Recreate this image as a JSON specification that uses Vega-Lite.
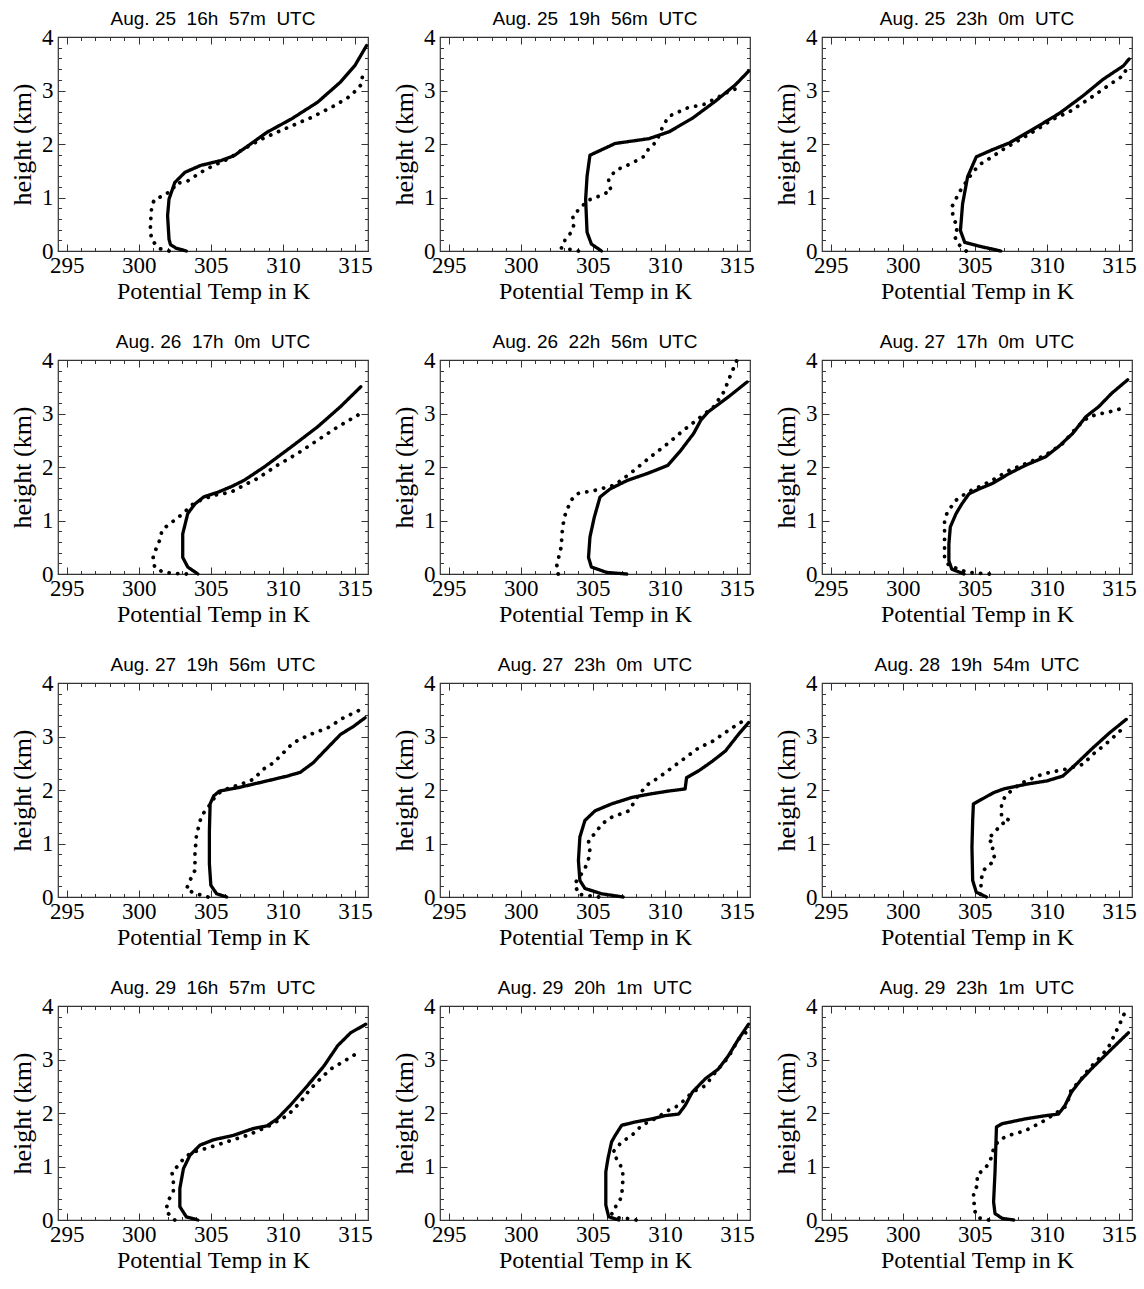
{
 "$schema": "https://vega.github.io/schema/vega-lite/v6.json",
 "padding": {"left": 8, "top": 9, "right": 0, "bottom": 5},
 "background": "white",
 "config": {"view": {"stroke": "#333", "strokeWidth": 1.2}, "axis": {"labelFont": "Liberation Serif", "titleFont": "Liberation Serif", "labelColor": "black", "titleColor": "black", "titleFontWeight": "normal", "grid": false}},
 "datasets": {"d": [
{"t":"Aug. 25 16h 57m UTC","s":"solid","i":0,"T":303.3,"h":0},{"t":"Aug. 25 16h 57m UTC","s":"solid","i":1,"T":302.6,"h":0.05},{"t":"Aug. 25 16h 57m UTC","s":"solid","i":2,"T":302.2,"h":0.12},{"t":"Aug. 25 16h 57m UTC","s":"solid","i":3,"T":302.1,"h":0.22},{"t":"Aug. 25 16h 57m UTC","s":"solid","i":4,"T":302.0,"h":0.66},{"t":"Aug. 25 16h 57m UTC","s":"solid","i":5,"T":302.1,"h":0.97},{"t":"Aug. 25 16h 57m UTC","s":"solid","i":6,"T":302.5,"h":1.28},{"t":"Aug. 25 16h 57m UTC","s":"solid","i":7,"T":303.2,"h":1.47},{"t":"Aug. 25 16h 57m UTC","s":"solid","i":8,"T":304.3,"h":1.6},{"t":"Aug. 25 16h 57m UTC","s":"solid","i":9,"T":305.7,"h":1.69},{"t":"Aug. 25 16h 57m UTC","s":"solid","i":10,"T":306.6,"h":1.78},{"t":"Aug. 25 16h 57m UTC","s":"solid","i":11,"T":307.6,"h":1.97},{"t":"Aug. 25 16h 57m UTC","s":"solid","i":12,"T":308.9,"h":2.22},{"t":"Aug. 25 16h 57m UTC","s":"solid","i":13,"T":310.6,"h":2.47},{"t":"Aug. 25 16h 57m UTC","s":"solid","i":14,"T":312.4,"h":2.78},{"t":"Aug. 25 16h 57m UTC","s":"solid","i":15,"T":314.0,"h":3.16},{"t":"Aug. 25 16h 57m UTC","s":"solid","i":16,"T":315.0,"h":3.47},{"t":"Aug. 25 16h 57m UTC","s":"solid","i":17,"T":315.8,"h":3.84},
{"t":"Aug. 25 16h 57m UTC","s":"dotted","i":0,"T":302.1,"h":0},{"t":"Aug. 25 16h 57m UTC","s":"dotted","i":1,"T":301.5,"h":0.04},{"t":"Aug. 25 16h 57m UTC","s":"dotted","i":2,"T":300.9,"h":0.2},{"t":"Aug. 25 16h 57m UTC","s":"dotted","i":3,"T":300.8,"h":0.4},{"t":"Aug. 25 16h 57m UTC","s":"dotted","i":4,"T":300.85,"h":0.66},{"t":"Aug. 25 16h 57m UTC","s":"dotted","i":5,"T":300.9,"h":0.84},{"t":"Aug. 25 16h 57m UTC","s":"dotted","i":6,"T":301.1,"h":0.97},{"t":"Aug. 25 16h 57m UTC","s":"dotted","i":7,"T":301.7,"h":1.03},{"t":"Aug. 25 16h 57m UTC","s":"dotted","i":8,"T":302.4,"h":1.16},{"t":"Aug. 25 16h 57m UTC","s":"dotted","i":9,"T":302.5,"h":1.25},{"t":"Aug. 25 16h 57m UTC","s":"dotted","i":10,"T":303.4,"h":1.31},{"t":"Aug. 25 16h 57m UTC","s":"dotted","i":11,"T":304.3,"h":1.47},{"t":"Aug. 25 16h 57m UTC","s":"dotted","i":12,"T":305.2,"h":1.6},{"t":"Aug. 25 16h 57m UTC","s":"dotted","i":13,"T":306.2,"h":1.72},{"t":"Aug. 25 16h 57m UTC","s":"dotted","i":14,"T":307.1,"h":1.88},{"t":"Aug. 25 16h 57m UTC","s":"dotted","i":15,"T":308.5,"h":2.09},{"t":"Aug. 25 16h 57m UTC","s":"dotted","i":16,"T":310.1,"h":2.28},{"t":"Aug. 25 16h 57m UTC","s":"dotted","i":17,"T":312.0,"h":2.5},{"t":"Aug. 25 16h 57m UTC","s":"dotted","i":18,"T":313.6,"h":2.72},{"t":"Aug. 25 16h 57m UTC","s":"dotted","i":19,"T":314.7,"h":2.9},{"t":"Aug. 25 16h 57m UTC","s":"dotted","i":20,"T":315.4,"h":3.1},{"t":"Aug. 25 16h 57m UTC","s":"dotted","i":21,"T":315.6,"h":3.38},
{"t":"Aug. 25 19h 56m UTC","s":"solid","i":0,"T":305.6,"h":0},{"t":"Aug. 25 19h 56m UTC","s":"solid","i":1,"T":304.9,"h":0.13},{"t":"Aug. 25 19h 56m UTC","s":"solid","i":2,"T":304.6,"h":0.35},{"t":"Aug. 25 19h 56m UTC","s":"solid","i":3,"T":304.5,"h":0.97},{"t":"Aug. 25 19h 56m UTC","s":"solid","i":4,"T":304.6,"h":1.4},{"t":"Aug. 25 19h 56m UTC","s":"solid","i":5,"T":304.8,"h":1.79},{"t":"Aug. 25 19h 56m UTC","s":"solid","i":6,"T":306.55,"h":2.01},{"t":"Aug. 25 19h 56m UTC","s":"solid","i":7,"T":308.9,"h":2.1},{"t":"Aug. 25 19h 56m UTC","s":"solid","i":8,"T":310.3,"h":2.23},{"t":"Aug. 25 19h 56m UTC","s":"solid","i":9,"T":311.9,"h":2.48},{"t":"Aug. 25 19h 56m UTC","s":"solid","i":10,"T":313.5,"h":2.8},{"t":"Aug. 25 19h 56m UTC","s":"solid","i":11,"T":314.9,"h":3.11},{"t":"Aug. 25 19h 56m UTC","s":"solid","i":12,"T":315.8,"h":3.36},
{"t":"Aug. 25 19h 56m UTC","s":"dotted","i":0,"T":304.0,"h":0},{"t":"Aug. 25 19h 56m UTC","s":"dotted","i":1,"T":302.8,"h":0.06},{"t":"Aug. 25 19h 56m UTC","s":"dotted","i":2,"T":303.1,"h":0.22},{"t":"Aug. 25 19h 56m UTC","s":"dotted","i":3,"T":303.5,"h":0.35},{"t":"Aug. 25 19h 56m UTC","s":"dotted","i":4,"T":303.7,"h":0.5},{"t":"Aug. 25 19h 56m UTC","s":"dotted","i":5,"T":303.6,"h":0.66},{"t":"Aug. 25 19h 56m UTC","s":"dotted","i":6,"T":304.1,"h":0.79},{"t":"Aug. 25 19h 56m UTC","s":"dotted","i":7,"T":304.6,"h":0.94},{"t":"Aug. 25 19h 56m UTC","s":"dotted","i":8,"T":305.2,"h":1.0},{"t":"Aug. 25 19h 56m UTC","s":"dotted","i":9,"T":306.3,"h":1.13},{"t":"Aug. 25 19h 56m UTC","s":"dotted","i":10,"T":306.1,"h":1.23},{"t":"Aug. 25 19h 56m UTC","s":"dotted","i":11,"T":306.1,"h":1.35},{"t":"Aug. 25 19h 56m UTC","s":"dotted","i":12,"T":306.6,"h":1.51},{"t":"Aug. 25 19h 56m UTC","s":"dotted","i":13,"T":307.7,"h":1.64},{"t":"Aug. 25 19h 56m UTC","s":"dotted","i":14,"T":308.5,"h":1.76},{"t":"Aug. 25 19h 56m UTC","s":"dotted","i":15,"T":308.9,"h":1.92},{"t":"Aug. 25 19h 56m UTC","s":"dotted","i":16,"T":309.4,"h":2.04},{"t":"Aug. 25 19h 56m UTC","s":"dotted","i":17,"T":309.9,"h":2.36},{"t":"Aug. 25 19h 56m UTC","s":"dotted","i":18,"T":310.3,"h":2.52},{"t":"Aug. 25 19h 56m UTC","s":"dotted","i":19,"T":311.5,"h":2.67},{"t":"Aug. 25 19h 56m UTC","s":"dotted","i":20,"T":312.7,"h":2.74},{"t":"Aug. 25 19h 56m UTC","s":"dotted","i":21,"T":313.8,"h":2.89},{"t":"Aug. 25 19h 56m UTC","s":"dotted","i":22,"T":314.5,"h":2.99},{"t":"Aug. 25 19h 56m UTC","s":"dotted","i":23,"T":315.4,"h":3.08},
{"t":"Aug. 25 23h 0m UTC","s":"solid","i":0,"T":306.8,"h":0},{"t":"Aug. 25 23h 0m UTC","s":"solid","i":1,"T":305.3,"h":0.09},{"t":"Aug. 25 23h 0m UTC","s":"solid","i":2,"T":304.3,"h":0.16},{"t":"Aug. 25 23h 0m UTC","s":"solid","i":3,"T":304.0,"h":0.38},{"t":"Aug. 25 23h 0m UTC","s":"solid","i":4,"T":304.15,"h":0.88},{"t":"Aug. 25 23h 0m UTC","s":"solid","i":5,"T":304.5,"h":1.39},{"t":"Aug. 25 23h 0m UTC","s":"solid","i":6,"T":305.1,"h":1.76},{"t":"Aug. 25 23h 0m UTC","s":"solid","i":7,"T":306.2,"h":1.89},{"t":"Aug. 25 23h 0m UTC","s":"solid","i":8,"T":307.4,"h":2.02},{"t":"Aug. 25 23h 0m UTC","s":"solid","i":9,"T":309.0,"h":2.27},{"t":"Aug. 25 23h 0m UTC","s":"solid","i":10,"T":310.9,"h":2.58},{"t":"Aug. 25 23h 0m UTC","s":"solid","i":11,"T":312.5,"h":2.9},{"t":"Aug. 25 23h 0m UTC","s":"solid","i":12,"T":313.9,"h":3.21},{"t":"Aug. 25 23h 0m UTC","s":"solid","i":13,"T":315.3,"h":3.46},{"t":"Aug. 25 23h 0m UTC","s":"solid","i":14,"T":315.7,"h":3.59},
{"t":"Aug. 25 23h 0m UTC","s":"dotted","i":0,"T":304.4,"h":0},{"t":"Aug. 25 23h 0m UTC","s":"dotted","i":1,"T":303.8,"h":0.14},{"t":"Aug. 25 23h 0m UTC","s":"dotted","i":2,"T":303.6,"h":0.28},{"t":"Aug. 25 23h 0m UTC","s":"dotted","i":3,"T":303.8,"h":0.44},{"t":"Aug. 25 23h 0m UTC","s":"dotted","i":4,"T":303.5,"h":0.63},{"t":"Aug. 25 23h 0m UTC","s":"dotted","i":5,"T":303.4,"h":0.82},{"t":"Aug. 25 23h 0m UTC","s":"dotted","i":6,"T":303.7,"h":0.98},{"t":"Aug. 25 23h 0m UTC","s":"dotted","i":7,"T":304.0,"h":1.13},{"t":"Aug. 25 23h 0m UTC","s":"dotted","i":8,"T":304.4,"h":1.29},{"t":"Aug. 25 23h 0m UTC","s":"dotted","i":9,"T":304.8,"h":1.45},{"t":"Aug. 25 23h 0m UTC","s":"dotted","i":10,"T":305.3,"h":1.61},{"t":"Aug. 25 23h 0m UTC","s":"dotted","i":11,"T":306.2,"h":1.76},{"t":"Aug. 25 23h 0m UTC","s":"dotted","i":12,"T":306.9,"h":1.89},{"t":"Aug. 25 23h 0m UTC","s":"dotted","i":13,"T":308.3,"h":2.11},{"t":"Aug. 25 23h 0m UTC","s":"dotted","i":14,"T":309.3,"h":2.27},{"t":"Aug. 25 23h 0m UTC","s":"dotted","i":15,"T":310.4,"h":2.46},{"t":"Aug. 25 23h 0m UTC","s":"dotted","i":16,"T":311.6,"h":2.61},{"t":"Aug. 25 23h 0m UTC","s":"dotted","i":17,"T":312.5,"h":2.77},{"t":"Aug. 25 23h 0m UTC","s":"dotted","i":18,"T":313.4,"h":2.93},{"t":"Aug. 25 23h 0m UTC","s":"dotted","i":19,"T":314.4,"h":3.12},{"t":"Aug. 25 23h 0m UTC","s":"dotted","i":20,"T":315.3,"h":3.28},{"t":"Aug. 25 23h 0m UTC","s":"dotted","i":21,"T":315.5,"h":3.4},
{"t":"Aug. 26 17h 0m UTC","s":"solid","i":0,"T":304.1,"h":0},{"t":"Aug. 26 17h 0m UTC","s":"solid","i":1,"T":303.4,"h":0.13},{"t":"Aug. 26 17h 0m UTC","s":"solid","i":2,"T":303.05,"h":0.31},{"t":"Aug. 26 17h 0m UTC","s":"solid","i":3,"T":303.05,"h":0.75},{"t":"Aug. 26 17h 0m UTC","s":"solid","i":4,"T":303.4,"h":1.13},{"t":"Aug. 26 17h 0m UTC","s":"solid","i":5,"T":303.9,"h":1.31},{"t":"Aug. 26 17h 0m UTC","s":"solid","i":6,"T":304.5,"h":1.44},{"t":"Aug. 26 17h 0m UTC","s":"solid","i":7,"T":305.5,"h":1.53},{"t":"Aug. 26 17h 0m UTC","s":"solid","i":8,"T":306.4,"h":1.63},{"t":"Aug. 26 17h 0m UTC","s":"solid","i":9,"T":307.3,"h":1.75},{"t":"Aug. 26 17h 0m UTC","s":"solid","i":10,"T":308.7,"h":2.0},{"t":"Aug. 26 17h 0m UTC","s":"solid","i":11,"T":310.6,"h":2.38},{"t":"Aug. 26 17h 0m UTC","s":"solid","i":12,"T":312.4,"h":2.75},{"t":"Aug. 26 17h 0m UTC","s":"solid","i":13,"T":314.0,"h":3.13},{"t":"Aug. 26 17h 0m UTC","s":"solid","i":14,"T":315.4,"h":3.5},
{"t":"Aug. 26 17h 0m UTC","s":"dotted","i":0,"T":303.3,"h":0},{"t":"Aug. 26 17h 0m UTC","s":"dotted","i":1,"T":302.5,"h":0.01},{"t":"Aug. 26 17h 0m UTC","s":"dotted","i":2,"T":301.7,"h":0.03},{"t":"Aug. 26 17h 0m UTC","s":"dotted","i":3,"T":301.1,"h":0.13},{"t":"Aug. 26 17h 0m UTC","s":"dotted","i":4,"T":301.0,"h":0.31},{"t":"Aug. 26 17h 0m UTC","s":"dotted","i":5,"T":301.2,"h":0.47},{"t":"Aug. 26 17h 0m UTC","s":"dotted","i":6,"T":301.5,"h":0.66},{"t":"Aug. 26 17h 0m UTC","s":"dotted","i":7,"T":301.6,"h":0.81},{"t":"Aug. 26 17h 0m UTC","s":"dotted","i":8,"T":302.0,"h":0.91},{"t":"Aug. 26 17h 0m UTC","s":"dotted","i":9,"T":302.6,"h":1.03},{"t":"Aug. 26 17h 0m UTC","s":"dotted","i":10,"T":303.2,"h":1.16},{"t":"Aug. 26 17h 0m UTC","s":"dotted","i":11,"T":303.6,"h":1.28},{"t":"Aug. 26 17h 0m UTC","s":"dotted","i":12,"T":304.3,"h":1.38},{"t":"Aug. 26 17h 0m UTC","s":"dotted","i":13,"T":305.2,"h":1.47},{"t":"Aug. 26 17h 0m UTC","s":"dotted","i":14,"T":306.4,"h":1.53},{"t":"Aug. 26 17h 0m UTC","s":"dotted","i":15,"T":307.3,"h":1.66},{"t":"Aug. 26 17h 0m UTC","s":"dotted","i":16,"T":308.2,"h":1.78},{"t":"Aug. 26 17h 0m UTC","s":"dotted","i":17,"T":309.6,"h":2.03},{"t":"Aug. 26 17h 0m UTC","s":"dotted","i":18,"T":311.0,"h":2.25},{"t":"Aug. 26 17h 0m UTC","s":"dotted","i":19,"T":312.4,"h":2.5},{"t":"Aug. 26 17h 0m UTC","s":"dotted","i":20,"T":313.8,"h":2.75},{"t":"Aug. 26 17h 0m UTC","s":"dotted","i":21,"T":315.2,"h":2.97},{"t":"Aug. 26 17h 0m UTC","s":"dotted","i":22,"T":315.5,"h":3.06},
{"t":"Aug. 26 22h 56m UTC","s":"solid","i":0,"T":307.35,"h":0},{"t":"Aug. 26 22h 56m UTC","s":"solid","i":1,"T":305.95,"h":0.03},{"t":"Aug. 26 22h 56m UTC","s":"solid","i":2,"T":304.9,"h":0.13},{"t":"Aug. 26 22h 56m UTC","s":"solid","i":3,"T":304.7,"h":0.31},{"t":"Aug. 26 22h 56m UTC","s":"solid","i":4,"T":304.8,"h":0.69},{"t":"Aug. 26 22h 56m UTC","s":"solid","i":5,"T":305.1,"h":1.06},{"t":"Aug. 26 22h 56m UTC","s":"solid","i":6,"T":305.5,"h":1.44},{"t":"Aug. 26 22h 56m UTC","s":"solid","i":7,"T":306.2,"h":1.59},{"t":"Aug. 26 22h 56m UTC","s":"solid","i":8,"T":307.4,"h":1.75},{"t":"Aug. 26 22h 56m UTC","s":"solid","i":9,"T":308.8,"h":1.88},{"t":"Aug. 26 22h 56m UTC","s":"solid","i":10,"T":310.2,"h":2.03},{"t":"Aug. 26 22h 56m UTC","s":"solid","i":11,"T":311.1,"h":2.31},{"t":"Aug. 26 22h 56m UTC","s":"solid","i":12,"T":312.0,"h":2.63},{"t":"Aug. 26 22h 56m UTC","s":"solid","i":13,"T":312.5,"h":2.88},{"t":"Aug. 26 22h 56m UTC","s":"solid","i":14,"T":313.0,"h":3.03},{"t":"Aug. 26 22h 56m UTC","s":"solid","i":15,"T":314.4,"h":3.31},{"t":"Aug. 26 22h 56m UTC","s":"solid","i":16,"T":315.7,"h":3.59},
{"t":"Aug. 26 22h 56m UTC","s":"dotted","i":0,"T":302.6,"h":0},{"t":"Aug. 26 22h 56m UTC","s":"dotted","i":1,"T":302.5,"h":0.16},{"t":"Aug. 26 22h 56m UTC","s":"dotted","i":2,"T":302.8,"h":0.5},{"t":"Aug. 26 22h 56m UTC","s":"dotted","i":3,"T":302.9,"h":0.88},{"t":"Aug. 26 22h 56m UTC","s":"dotted","i":4,"T":303.1,"h":1.13},{"t":"Aug. 26 22h 56m UTC","s":"dotted","i":5,"T":303.5,"h":1.38},{"t":"Aug. 26 22h 56m UTC","s":"dotted","i":6,"T":303.9,"h":1.5},{"t":"Aug. 26 22h 56m UTC","s":"dotted","i":7,"T":305.1,"h":1.56},{"t":"Aug. 26 22h 56m UTC","s":"dotted","i":8,"T":306.5,"h":1.66},{"t":"Aug. 26 22h 56m UTC","s":"dotted","i":9,"T":307.6,"h":1.88},{"t":"Aug. 26 22h 56m UTC","s":"dotted","i":10,"T":309.0,"h":2.19},{"t":"Aug. 26 22h 56m UTC","s":"dotted","i":11,"T":310.2,"h":2.44},{"t":"Aug. 26 22h 56m UTC","s":"dotted","i":12,"T":311.3,"h":2.69},{"t":"Aug. 26 22h 56m UTC","s":"dotted","i":13,"T":312.5,"h":2.94},{"t":"Aug. 26 22h 56m UTC","s":"dotted","i":14,"T":313.4,"h":3.13},{"t":"Aug. 26 22h 56m UTC","s":"dotted","i":15,"T":314.1,"h":3.41},{"t":"Aug. 26 22h 56m UTC","s":"dotted","i":16,"T":314.6,"h":3.75},{"t":"Aug. 26 22h 56m UTC","s":"dotted","i":17,"T":315.0,"h":4.0},
{"t":"Aug. 27 17h 0m UTC","s":"solid","i":0,"T":304.25,"h":0},{"t":"Aug. 27 17h 0m UTC","s":"solid","i":1,"T":303.4,"h":0.09},{"t":"Aug. 27 17h 0m UTC","s":"solid","i":2,"T":303.2,"h":0.25},{"t":"Aug. 27 17h 0m UTC","s":"solid","i":3,"T":303.2,"h":0.56},{"t":"Aug. 27 17h 0m UTC","s":"solid","i":4,"T":303.3,"h":0.88},{"t":"Aug. 27 17h 0m UTC","s":"solid","i":5,"T":303.7,"h":1.13},{"t":"Aug. 27 17h 0m UTC","s":"solid","i":6,"T":304.1,"h":1.31},{"t":"Aug. 27 17h 0m UTC","s":"solid","i":7,"T":304.6,"h":1.5},{"t":"Aug. 27 17h 0m UTC","s":"solid","i":8,"T":305.3,"h":1.59},{"t":"Aug. 27 17h 0m UTC","s":"solid","i":9,"T":306.2,"h":1.69},{"t":"Aug. 27 17h 0m UTC","s":"solid","i":10,"T":307.4,"h":1.88},{"t":"Aug. 27 17h 0m UTC","s":"solid","i":11,"T":308.5,"h":2.03},{"t":"Aug. 27 17h 0m UTC","s":"solid","i":12,"T":309.9,"h":2.19},{"t":"Aug. 27 17h 0m UTC","s":"solid","i":13,"T":310.8,"h":2.38},{"t":"Aug. 27 17h 0m UTC","s":"solid","i":14,"T":311.8,"h":2.63},{"t":"Aug. 27 17h 0m UTC","s":"solid","i":15,"T":312.7,"h":2.94},{"t":"Aug. 27 17h 0m UTC","s":"solid","i":16,"T":313.6,"h":3.13},{"t":"Aug. 27 17h 0m UTC","s":"solid","i":17,"T":314.5,"h":3.38},{"t":"Aug. 27 17h 0m UTC","s":"solid","i":18,"T":315.6,"h":3.63},
{"t":"Aug. 27 17h 0m UTC","s":"dotted","i":0,"T":306.0,"h":0},{"t":"Aug. 27 17h 0m UTC","s":"dotted","i":1,"T":304.5,"h":0.03},{"t":"Aug. 27 17h 0m UTC","s":"dotted","i":2,"T":303.2,"h":0.16},{"t":"Aug. 27 17h 0m UTC","s":"dotted","i":3,"T":302.9,"h":0.31},{"t":"Aug. 27 17h 0m UTC","s":"dotted","i":4,"T":302.9,"h":0.63},{"t":"Aug. 27 17h 0m UTC","s":"dotted","i":5,"T":302.9,"h":1.0},{"t":"Aug. 27 17h 0m UTC","s":"dotted","i":6,"T":303.1,"h":1.16},{"t":"Aug. 27 17h 0m UTC","s":"dotted","i":7,"T":303.7,"h":1.38},{"t":"Aug. 27 17h 0m UTC","s":"dotted","i":8,"T":304.5,"h":1.53},{"t":"Aug. 27 17h 0m UTC","s":"dotted","i":9,"T":305.3,"h":1.63},{"t":"Aug. 27 17h 0m UTC","s":"dotted","i":10,"T":306.2,"h":1.75},{"t":"Aug. 27 17h 0m UTC","s":"dotted","i":11,"T":307.4,"h":1.94},{"t":"Aug. 27 17h 0m UTC","s":"dotted","i":12,"T":308.5,"h":2.06},{"t":"Aug. 27 17h 0m UTC","s":"dotted","i":13,"T":309.9,"h":2.22},{"t":"Aug. 27 17h 0m UTC","s":"dotted","i":14,"T":311.1,"h":2.44},{"t":"Aug. 27 17h 0m UTC","s":"dotted","i":15,"T":312.1,"h":2.75},{"t":"Aug. 27 17h 0m UTC","s":"dotted","i":16,"T":312.9,"h":2.94},{"t":"Aug. 27 17h 0m UTC","s":"dotted","i":17,"T":313.8,"h":3.0},{"t":"Aug. 27 17h 0m UTC","s":"dotted","i":18,"T":314.8,"h":3.06},{"t":"Aug. 27 17h 0m UTC","s":"dotted","i":19,"T":315.5,"h":3.13},
{"t":"Aug. 27 19h 56m UTC","s":"solid","i":0,"T":306.1,"h":0},{"t":"Aug. 27 19h 56m UTC","s":"solid","i":1,"T":305.4,"h":0.06},{"t":"Aug. 27 19h 56m UTC","s":"solid","i":2,"T":305.0,"h":0.22},{"t":"Aug. 27 19h 56m UTC","s":"solid","i":3,"T":304.9,"h":0.62},{"t":"Aug. 27 19h 56m UTC","s":"solid","i":4,"T":304.9,"h":1.24},{"t":"Aug. 27 19h 56m UTC","s":"solid","i":5,"T":304.95,"h":1.74},{"t":"Aug. 27 19h 56m UTC","s":"solid","i":6,"T":305.2,"h":1.89},{"t":"Aug. 27 19h 56m UTC","s":"solid","i":7,"T":305.6,"h":1.98},{"t":"Aug. 27 19h 56m UTC","s":"solid","i":8,"T":307.0,"h":2.05},{"t":"Aug. 27 19h 56m UTC","s":"solid","i":9,"T":308.9,"h":2.17},{"t":"Aug. 27 19h 56m UTC","s":"solid","i":10,"T":310.3,"h":2.26},{"t":"Aug. 27 19h 56m UTC","s":"solid","i":11,"T":311.2,"h":2.33},{"t":"Aug. 27 19h 56m UTC","s":"solid","i":12,"T":312.1,"h":2.51},{"t":"Aug. 27 19h 56m UTC","s":"solid","i":13,"T":313.1,"h":2.79},{"t":"Aug. 27 19h 56m UTC","s":"solid","i":14,"T":314.0,"h":3.04},{"t":"Aug. 27 19h 56m UTC","s":"solid","i":15,"T":314.9,"h":3.19},{"t":"Aug. 27 19h 56m UTC","s":"solid","i":16,"T":315.7,"h":3.35},
{"t":"Aug. 27 19h 56m UTC","s":"dotted","i":0,"T":304.8,"h":0},{"t":"Aug. 27 19h 56m UTC","s":"dotted","i":1,"T":304.0,"h":0.06},{"t":"Aug. 27 19h 56m UTC","s":"dotted","i":2,"T":303.3,"h":0.14},{"t":"Aug. 27 19h 56m UTC","s":"dotted","i":3,"T":303.5,"h":0.28},{"t":"Aug. 27 19h 56m UTC","s":"dotted","i":4,"T":303.9,"h":0.5},{"t":"Aug. 27 19h 56m UTC","s":"dotted","i":5,"T":303.9,"h":0.81},{"t":"Aug. 27 19h 56m UTC","s":"dotted","i":6,"T":304.0,"h":1.15},{"t":"Aug. 27 19h 56m UTC","s":"dotted","i":7,"T":304.35,"h":1.52},{"t":"Aug. 27 19h 56m UTC","s":"dotted","i":8,"T":304.8,"h":1.67},{"t":"Aug. 27 19h 56m UTC","s":"dotted","i":9,"T":305.4,"h":1.92},{"t":"Aug. 27 19h 56m UTC","s":"dotted","i":10,"T":306.1,"h":2.02},{"t":"Aug. 27 19h 56m UTC","s":"dotted","i":11,"T":307.0,"h":2.1},{"t":"Aug. 27 19h 56m UTC","s":"dotted","i":12,"T":307.95,"h":2.2},{"t":"Aug. 27 19h 56m UTC","s":"dotted","i":13,"T":308.65,"h":2.39},{"t":"Aug. 27 19h 56m UTC","s":"dotted","i":14,"T":309.35,"h":2.51},{"t":"Aug. 27 19h 56m UTC","s":"dotted","i":15,"T":310.05,"h":2.7},{"t":"Aug. 27 19h 56m UTC","s":"dotted","i":16,"T":310.7,"h":2.88},{"t":"Aug. 27 19h 56m UTC","s":"dotted","i":17,"T":311.9,"h":3.04},{"t":"Aug. 27 19h 56m UTC","s":"dotted","i":18,"T":313.1,"h":3.16},{"t":"Aug. 27 19h 56m UTC","s":"dotted","i":19,"T":314.2,"h":3.35},{"t":"Aug. 27 19h 56m UTC","s":"dotted","i":20,"T":315.6,"h":3.53},
{"t":"Aug. 27 23h 0m UTC","s":"solid","i":0,"T":307.1,"h":0},{"t":"Aug. 27 23h 0m UTC","s":"solid","i":1,"T":305.6,"h":0.06},{"t":"Aug. 27 23h 0m UTC","s":"solid","i":2,"T":304.45,"h":0.16},{"t":"Aug. 27 23h 0m UTC","s":"solid","i":3,"T":304.1,"h":0.31},{"t":"Aug. 27 23h 0m UTC","s":"solid","i":4,"T":304.0,"h":0.68},{"t":"Aug. 27 23h 0m UTC","s":"solid","i":5,"T":304.1,"h":1.12},{"t":"Aug. 27 23h 0m UTC","s":"solid","i":6,"T":304.45,"h":1.43},{"t":"Aug. 27 23h 0m UTC","s":"solid","i":7,"T":305.15,"h":1.61},{"t":"Aug. 27 23h 0m UTC","s":"solid","i":8,"T":306.3,"h":1.74},{"t":"Aug. 27 23h 0m UTC","s":"solid","i":9,"T":307.7,"h":1.86},{"t":"Aug. 27 23h 0m UTC","s":"solid","i":10,"T":308.85,"h":1.92},{"t":"Aug. 27 23h 0m UTC","s":"solid","i":11,"T":310.25,"h":1.98},{"t":"Aug. 27 23h 0m UTC","s":"solid","i":12,"T":311.4,"h":2.02},{"t":"Aug. 27 23h 0m UTC","s":"solid","i":13,"T":311.5,"h":2.23},{"t":"Aug. 27 23h 0m UTC","s":"solid","i":14,"T":312.35,"h":2.36},{"t":"Aug. 27 23h 0m UTC","s":"solid","i":15,"T":313.3,"h":2.54},{"t":"Aug. 27 23h 0m UTC","s":"solid","i":16,"T":314.2,"h":2.73},{"t":"Aug. 27 23h 0m UTC","s":"solid","i":17,"T":315.1,"h":3.04},{"t":"Aug. 27 23h 0m UTC","s":"solid","i":18,"T":315.8,"h":3.26},
{"t":"Aug. 27 23h 0m UTC","s":"dotted","i":0,"T":305.4,"h":0},{"t":"Aug. 27 23h 0m UTC","s":"dotted","i":1,"T":304.0,"h":0.05},{"t":"Aug. 27 23h 0m UTC","s":"dotted","i":2,"T":303.75,"h":0.25},{"t":"Aug. 27 23h 0m UTC","s":"dotted","i":3,"T":304.45,"h":0.53},{"t":"Aug. 27 23h 0m UTC","s":"dotted","i":4,"T":304.7,"h":0.71},{"t":"Aug. 27 23h 0m UTC","s":"dotted","i":5,"T":304.8,"h":0.9},{"t":"Aug. 27 23h 0m UTC","s":"dotted","i":6,"T":304.7,"h":1.05},{"t":"Aug. 27 23h 0m UTC","s":"dotted","i":7,"T":305.3,"h":1.24},{"t":"Aug. 27 23h 0m UTC","s":"dotted","i":8,"T":305.6,"h":1.36},{"t":"Aug. 27 23h 0m UTC","s":"dotted","i":9,"T":306.3,"h":1.49},{"t":"Aug. 27 23h 0m UTC","s":"dotted","i":10,"T":307.5,"h":1.61},{"t":"Aug. 27 23h 0m UTC","s":"dotted","i":11,"T":308.2,"h":1.92},{"t":"Aug. 27 23h 0m UTC","s":"dotted","i":12,"T":308.85,"h":2.11},{"t":"Aug. 27 23h 0m UTC","s":"dotted","i":13,"T":309.55,"h":2.23},{"t":"Aug. 27 23h 0m UTC","s":"dotted","i":14,"T":310.5,"h":2.42},{"t":"Aug. 27 23h 0m UTC","s":"dotted","i":15,"T":311.4,"h":2.6},{"t":"Aug. 27 23h 0m UTC","s":"dotted","i":16,"T":312.35,"h":2.79},{"t":"Aug. 27 23h 0m UTC","s":"dotted","i":17,"T":313.3,"h":2.91},{"t":"Aug. 27 23h 0m UTC","s":"dotted","i":18,"T":314.65,"h":3.16},{"t":"Aug. 27 23h 0m UTC","s":"dotted","i":19,"T":315.6,"h":3.32},
{"t":"Aug. 28 19h 54m UTC","s":"solid","i":0,"T":305.8,"h":0},{"t":"Aug. 28 19h 54m UTC","s":"solid","i":1,"T":305.1,"h":0.09},{"t":"Aug. 28 19h 54m UTC","s":"solid","i":2,"T":304.85,"h":0.31},{"t":"Aug. 28 19h 54m UTC","s":"solid","i":3,"T":304.8,"h":0.93},{"t":"Aug. 28 19h 54m UTC","s":"solid","i":4,"T":304.85,"h":1.43},{"t":"Aug. 28 19h 54m UTC","s":"solid","i":5,"T":304.9,"h":1.74},{"t":"Aug. 28 19h 54m UTC","s":"solid","i":6,"T":305.5,"h":1.83},{"t":"Aug. 28 19h 54m UTC","s":"solid","i":7,"T":306.3,"h":1.95},{"t":"Aug. 28 19h 54m UTC","s":"solid","i":8,"T":307.0,"h":2.02},{"t":"Aug. 28 19h 54m UTC","s":"solid","i":9,"T":308.6,"h":2.11},{"t":"Aug. 28 19h 54m UTC","s":"solid","i":10,"T":310.0,"h":2.17},{"t":"Aug. 28 19h 54m UTC","s":"solid","i":11,"T":311.1,"h":2.26},{"t":"Aug. 28 19h 54m UTC","s":"solid","i":12,"T":312.0,"h":2.48},{"t":"Aug. 28 19h 54m UTC","s":"solid","i":13,"T":313.2,"h":2.79},{"t":"Aug. 28 19h 54m UTC","s":"solid","i":14,"T":314.35,"h":3.07},{"t":"Aug. 28 19h 54m UTC","s":"solid","i":15,"T":315.5,"h":3.32},
{"t":"Aug. 28 19h 54m UTC","s":"dotted","i":0,"T":305.4,"h":0.05},{"t":"Aug. 28 19h 54m UTC","s":"dotted","i":1,"T":305.45,"h":0.34},{"t":"Aug. 28 19h 54m UTC","s":"dotted","i":2,"T":305.6,"h":0.5},{"t":"Aug. 28 19h 54m UTC","s":"dotted","i":3,"T":306.0,"h":0.59},{"t":"Aug. 28 19h 54m UTC","s":"dotted","i":4,"T":306.4,"h":0.71},{"t":"Aug. 28 19h 54m UTC","s":"dotted","i":5,"T":306.2,"h":0.87},{"t":"Aug. 28 19h 54m UTC","s":"dotted","i":6,"T":306.3,"h":0.99},{"t":"Aug. 28 19h 54m UTC","s":"dotted","i":7,"T":305.9,"h":1.09},{"t":"Aug. 28 19h 54m UTC","s":"dotted","i":8,"T":306.4,"h":1.21},{"t":"Aug. 28 19h 54m UTC","s":"dotted","i":9,"T":306.8,"h":1.36},{"t":"Aug. 28 19h 54m UTC","s":"dotted","i":10,"T":307.4,"h":1.43},{"t":"Aug. 28 19h 54m UTC","s":"dotted","i":11,"T":306.85,"h":1.52},{"t":"Aug. 28 19h 54m UTC","s":"dotted","i":12,"T":306.85,"h":1.71},{"t":"Aug. 28 19h 54m UTC","s":"dotted","i":13,"T":307.1,"h":1.89},{"t":"Aug. 28 19h 54m UTC","s":"dotted","i":14,"T":308.1,"h":2.11},{"t":"Aug. 28 19h 54m UTC","s":"dotted","i":15,"T":309.3,"h":2.26},{"t":"Aug. 28 19h 54m UTC","s":"dotted","i":16,"T":310.2,"h":2.33},{"t":"Aug. 28 19h 54m UTC","s":"dotted","i":17,"T":311.35,"h":2.39},{"t":"Aug. 28 19h 54m UTC","s":"dotted","i":18,"T":312.5,"h":2.48},{"t":"Aug. 28 19h 54m UTC","s":"dotted","i":19,"T":313.2,"h":2.67},{"t":"Aug. 28 19h 54m UTC","s":"dotted","i":20,"T":314.35,"h":2.92},{"t":"Aug. 28 19h 54m UTC","s":"dotted","i":21,"T":315.05,"h":3.1},{"t":"Aug. 28 19h 54m UTC","s":"dotted","i":22,"T":315.5,"h":3.17},
{"t":"Aug. 29 16h 57m UTC","s":"solid","i":0,"T":304.1,"h":0},{"t":"Aug. 29 16h 57m UTC","s":"solid","i":1,"T":303.3,"h":0.06},{"t":"Aug. 29 16h 57m UTC","s":"solid","i":2,"T":302.85,"h":0.25},{"t":"Aug. 29 16h 57m UTC","s":"solid","i":3,"T":302.85,"h":0.59},{"t":"Aug. 29 16h 57m UTC","s":"solid","i":4,"T":303.1,"h":0.96},{"t":"Aug. 29 16h 57m UTC","s":"solid","i":5,"T":303.55,"h":1.21},{"t":"Aug. 29 16h 57m UTC","s":"solid","i":6,"T":304.25,"h":1.4},{"t":"Aug. 29 16h 57m UTC","s":"solid","i":7,"T":305.2,"h":1.5},{"t":"Aug. 29 16h 57m UTC","s":"solid","i":8,"T":306.55,"h":1.58},{"t":"Aug. 29 16h 57m UTC","s":"solid","i":9,"T":307.95,"h":1.71},{"t":"Aug. 29 16h 57m UTC","s":"solid","i":10,"T":308.9,"h":1.76},{"t":"Aug. 29 16h 57m UTC","s":"solid","i":11,"T":309.6,"h":1.89},{"t":"Aug. 29 16h 57m UTC","s":"solid","i":12,"T":310.5,"h":2.14},{"t":"Aug. 29 16h 57m UTC","s":"solid","i":13,"T":311.7,"h":2.51},{"t":"Aug. 29 16h 57m UTC","s":"solid","i":14,"T":312.85,"h":2.88},{"t":"Aug. 29 16h 57m UTC","s":"solid","i":15,"T":313.8,"h":3.26},{"t":"Aug. 29 16h 57m UTC","s":"solid","i":16,"T":314.7,"h":3.5},{"t":"Aug. 29 16h 57m UTC","s":"solid","i":17,"T":315.75,"h":3.66},
{"t":"Aug. 29 16h 57m UTC","s":"dotted","i":0,"T":302.5,"h":0},{"t":"Aug. 29 16h 57m UTC","s":"dotted","i":1,"T":301.9,"h":0.16},{"t":"Aug. 29 16h 57m UTC","s":"dotted","i":2,"T":302.0,"h":0.34},{"t":"Aug. 29 16h 57m UTC","s":"dotted","i":3,"T":302.4,"h":0.53},{"t":"Aug. 29 16h 57m UTC","s":"dotted","i":4,"T":302.4,"h":0.71},{"t":"Aug. 29 16h 57m UTC","s":"dotted","i":5,"T":302.3,"h":0.9},{"t":"Aug. 29 16h 57m UTC","s":"dotted","i":6,"T":302.75,"h":1.02},{"t":"Aug. 29 16h 57m UTC","s":"dotted","i":7,"T":303.2,"h":1.18},{"t":"Aug. 29 16h 57m UTC","s":"dotted","i":8,"T":303.8,"h":1.27},{"t":"Aug. 29 16h 57m UTC","s":"dotted","i":9,"T":304.95,"h":1.36},{"t":"Aug. 29 16h 57m UTC","s":"dotted","i":10,"T":306.1,"h":1.46},{"t":"Aug. 29 16h 57m UTC","s":"dotted","i":11,"T":307.5,"h":1.58},{"t":"Aug. 29 16h 57m UTC","s":"dotted","i":12,"T":308.9,"h":1.74},{"t":"Aug. 29 16h 57m UTC","s":"dotted","i":13,"T":310.3,"h":1.95},{"t":"Aug. 29 16h 57m UTC","s":"dotted","i":14,"T":311.2,"h":2.2},{"t":"Aug. 29 16h 57m UTC","s":"dotted","i":15,"T":311.9,"h":2.45},{"t":"Aug. 29 16h 57m UTC","s":"dotted","i":16,"T":312.6,"h":2.64},{"t":"Aug. 29 16h 57m UTC","s":"dotted","i":17,"T":313.3,"h":2.82},{"t":"Aug. 29 16h 57m UTC","s":"dotted","i":18,"T":314.25,"h":2.97},{"t":"Aug. 29 16h 57m UTC","s":"dotted","i":19,"T":315.4,"h":3.16},
{"t":"Aug. 29 20h 1m UTC","s":"solid","i":0,"T":306.8,"h":0},{"t":"Aug. 29 20h 1m UTC","s":"solid","i":1,"T":306.1,"h":0.06},{"t":"Aug. 29 20h 1m UTC","s":"solid","i":2,"T":305.9,"h":0.28},{"t":"Aug. 29 20h 1m UTC","s":"solid","i":3,"T":305.9,"h":0.9},{"t":"Aug. 29 20h 1m UTC","s":"solid","i":4,"T":306.05,"h":1.15},{"t":"Aug. 29 20h 1m UTC","s":"solid","i":5,"T":306.3,"h":1.46},{"t":"Aug. 29 20h 1m UTC","s":"solid","i":6,"T":306.55,"h":1.58},{"t":"Aug. 29 20h 1m UTC","s":"solid","i":7,"T":307.0,"h":1.77},{"t":"Aug. 29 20h 1m UTC","s":"solid","i":8,"T":307.9,"h":1.83},{"t":"Aug. 29 20h 1m UTC","s":"solid","i":9,"T":309.1,"h":1.89},{"t":"Aug. 29 20h 1m UTC","s":"solid","i":10,"T":310.0,"h":1.95},{"t":"Aug. 29 20h 1m UTC","s":"solid","i":11,"T":310.95,"h":1.98},{"t":"Aug. 29 20h 1m UTC","s":"solid","i":12,"T":311.4,"h":2.14},{"t":"Aug. 29 20h 1m UTC","s":"solid","i":13,"T":311.9,"h":2.39},{"t":"Aug. 29 20h 1m UTC","s":"solid","i":14,"T":312.8,"h":2.64},{"t":"Aug. 29 20h 1m UTC","s":"solid","i":15,"T":313.7,"h":2.82},{"t":"Aug. 29 20h 1m UTC","s":"solid","i":16,"T":314.4,"h":3.07},{"t":"Aug. 29 20h 1m UTC","s":"solid","i":17,"T":315.1,"h":3.38},{"t":"Aug. 29 20h 1m UTC","s":"solid","i":18,"T":315.8,"h":3.66},
{"t":"Aug. 29 20h 1m UTC","s":"dotted","i":0,"T":308.0,"h":0},{"t":"Aug. 29 20h 1m UTC","s":"dotted","i":1,"T":307.35,"h":0.03},{"t":"Aug. 29 20h 1m UTC","s":"dotted","i":2,"T":306.65,"h":0.04},{"t":"Aug. 29 20h 1m UTC","s":"dotted","i":3,"T":306.3,"h":0.12},{"t":"Aug. 29 20h 1m UTC","s":"dotted","i":4,"T":306.65,"h":0.28},{"t":"Aug. 29 20h 1m UTC","s":"dotted","i":5,"T":307.0,"h":0.43},{"t":"Aug. 29 20h 1m UTC","s":"dotted","i":6,"T":307.05,"h":0.65},{"t":"Aug. 29 20h 1m UTC","s":"dotted","i":7,"T":307.1,"h":0.78},{"t":"Aug. 29 20h 1m UTC","s":"dotted","i":8,"T":307.05,"h":0.96},{"t":"Aug. 29 20h 1m UTC","s":"dotted","i":9,"T":306.75,"h":1.09},{"t":"Aug. 29 20h 1m UTC","s":"dotted","i":10,"T":306.4,"h":1.27},{"t":"Aug. 29 20h 1m UTC","s":"dotted","i":11,"T":307.0,"h":1.46},{"t":"Aug. 29 20h 1m UTC","s":"dotted","i":12,"T":307.7,"h":1.58},{"t":"Aug. 29 20h 1m UTC","s":"dotted","i":13,"T":308.4,"h":1.77},{"t":"Aug. 29 20h 1m UTC","s":"dotted","i":14,"T":309.3,"h":1.89},{"t":"Aug. 29 20h 1m UTC","s":"dotted","i":15,"T":310.25,"h":2.05},{"t":"Aug. 29 20h 1m UTC","s":"dotted","i":16,"T":310.95,"h":2.14},{"t":"Aug. 29 20h 1m UTC","s":"dotted","i":17,"T":311.9,"h":2.39},{"t":"Aug. 29 20h 1m UTC","s":"dotted","i":18,"T":312.8,"h":2.51},{"t":"Aug. 29 20h 1m UTC","s":"dotted","i":19,"T":313.5,"h":2.76},{"t":"Aug. 29 20h 1m UTC","s":"dotted","i":20,"T":314.4,"h":3.04},{"t":"Aug. 29 20h 1m UTC","s":"dotted","i":21,"T":315.1,"h":3.38},{"t":"Aug. 29 20h 1m UTC","s":"dotted","i":22,"T":315.6,"h":3.5},
{"t":"Aug. 29 23h 1m UTC","s":"solid","i":0,"T":307.7,"h":0},{"t":"Aug. 29 23h 1m UTC","s":"solid","i":1,"T":306.9,"h":0.03},{"t":"Aug. 29 23h 1m UTC","s":"solid","i":2,"T":306.4,"h":0.12},{"t":"Aug. 29 23h 1m UTC","s":"solid","i":3,"T":306.3,"h":0.34},{"t":"Aug. 29 23h 1m UTC","s":"solid","i":4,"T":306.4,"h":0.9},{"t":"Aug. 29 23h 1m UTC","s":"solid","i":5,"T":306.45,"h":1.33},{"t":"Aug. 29 23h 1m UTC","s":"solid","i":6,"T":306.5,"h":1.74},{"t":"Aug. 29 23h 1m UTC","s":"solid","i":7,"T":306.9,"h":1.8},{"t":"Aug. 29 23h 1m UTC","s":"solid","i":8,"T":308.5,"h":1.89},{"t":"Aug. 29 23h 1m UTC","s":"solid","i":9,"T":309.9,"h":1.95},{"t":"Aug. 29 23h 1m UTC","s":"solid","i":10,"T":310.8,"h":1.98},{"t":"Aug. 29 23h 1m UTC","s":"solid","i":11,"T":311.25,"h":2.14},{"t":"Aug. 29 23h 1m UTC","s":"solid","i":12,"T":311.7,"h":2.39},{"t":"Aug. 29 23h 1m UTC","s":"solid","i":13,"T":312.3,"h":2.6},{"t":"Aug. 29 23h 1m UTC","s":"solid","i":14,"T":313.1,"h":2.83},{"t":"Aug. 29 23h 1m UTC","s":"solid","i":15,"T":314.5,"h":3.2},{"t":"Aug. 29 23h 1m UTC","s":"solid","i":16,"T":315.65,"h":3.5},
{"t":"Aug. 29 23h 1m UTC","s":"dotted","i":0,"T":305.95,"h":0},{"t":"Aug. 29 23h 1m UTC","s":"dotted","i":1,"T":305.25,"h":0.04},{"t":"Aug. 29 23h 1m UTC","s":"dotted","i":2,"T":304.95,"h":0.19},{"t":"Aug. 29 23h 1m UTC","s":"dotted","i":3,"T":304.95,"h":0.34},{"t":"Aug. 29 23h 1m UTC","s":"dotted","i":4,"T":304.9,"h":0.53},{"t":"Aug. 29 23h 1m UTC","s":"dotted","i":5,"T":305.2,"h":0.65},{"t":"Aug. 29 23h 1m UTC","s":"dotted","i":6,"T":305.15,"h":0.84},{"t":"Aug. 29 23h 1m UTC","s":"dotted","i":7,"T":305.7,"h":0.96},{"t":"Aug. 29 23h 1m UTC","s":"dotted","i":8,"T":306.05,"h":1.09},{"t":"Aug. 29 23h 1m UTC","s":"dotted","i":9,"T":306.3,"h":1.33},{"t":"Aug. 29 23h 1m UTC","s":"dotted","i":10,"T":306.65,"h":1.49},{"t":"Aug. 29 23h 1m UTC","s":"dotted","i":11,"T":307.35,"h":1.58},{"t":"Aug. 29 23h 1m UTC","s":"dotted","i":12,"T":308.5,"h":1.67},{"t":"Aug. 29 23h 1m UTC","s":"dotted","i":13,"T":309.65,"h":1.83},{"t":"Aug. 29 23h 1m UTC","s":"dotted","i":14,"T":310.35,"h":1.95},{"t":"Aug. 29 23h 1m UTC","s":"dotted","i":15,"T":311.25,"h":2.11},{"t":"Aug. 29 23h 1m UTC","s":"dotted","i":16,"T":311.5,"h":2.26},{"t":"Aug. 29 23h 1m UTC","s":"dotted","i":17,"T":311.7,"h":2.45},{"t":"Aug. 29 23h 1m UTC","s":"dotted","i":18,"T":312.2,"h":2.57},{"t":"Aug. 29 23h 1m UTC","s":"dotted","i":19,"T":312.9,"h":2.82},{"t":"Aug. 29 23h 1m UTC","s":"dotted","i":20,"T":313.55,"h":3.0},{"t":"Aug. 29 23h 1m UTC","s":"dotted","i":21,"T":314.25,"h":3.22},{"t":"Aug. 29 23h 1m UTC","s":"dotted","i":22,"T":314.7,"h":3.47},{"t":"Aug. 29 23h 1m UTC","s":"dotted","i":23,"T":315.2,"h":3.75},{"t":"Aug. 29 23h 1m UTC","s":"dotted","i":24,"T":315.4,"h":3.88}
 ]},
 "data": {"name": "d"},
 "columns": 3,
 "spacing": {"row": 28, "column": 17},
 "facet": {"field": "t", "type": "nominal", "sort": ["Aug. 25 16h 57m UTC","Aug. 25 19h 56m UTC","Aug. 25 23h 0m UTC","Aug. 26 17h 0m UTC","Aug. 26 22h 56m UTC","Aug. 27 17h 0m UTC","Aug. 27 19h 56m UTC","Aug. 27 23h 0m UTC","Aug. 28 19h 54m UTC","Aug. 29 16h 57m UTC","Aug. 29 20h 1m UTC","Aug. 29 23h 1m UTC"], "header": {"title": null, "labelFont": "Liberation Sans", "labelFontSize": 19, "labelColor": "black", "labelPadding": -3, "labelExpr": "replace(replace(replace(datum.label, 'h ', 'h\u00a0 '), 'm ', 'm\u00a0 '), /^(Aug\\. \\d+) /, '$1\u00a0 ')"}},
 "resolve": {"scale": {"x": "independent", "y": "independent"}},
 "spec": {
  "width": 310, "height": 214,
  "layer": [
   {"mark": {"type": "line", "strokeCap": "round", "strokeJoin": "round", "color": "black"},
    "encoding": {
     "x": {"field": "T", "type": "quantitative", "scale": {"domain": [294.4, 315.9], "nice": false, "zero": false}, "axis": {"orient": "bottom", "values": [295,300,305,310,315], "ticks": false, "domain": false, "labelFontSize": 23, "labelPadding": 3, "title": "Potential Temp in K", "titleFontSize": 24, "titlePadding": 2}},
     "y": {"field": "h", "type": "quantitative", "scale": {"domain": [0, 4], "nice": false}, "axis": {"orient": "left", "values": [0,1,2,3,4], "ticks": false, "domain": false, "labelFontSize": 23, "labelPadding": 5, "title": "height (km)", "titleFontSize": 26, "titlePadding": 6}},
     "strokeDash": {"field": "s", "type": "nominal", "scale": {"domain": ["solid", "dotted"], "range": [[1, 0], [0.1, 8.5]]}, "legend": null},
     "size": {"field": "s", "type": "nominal", "scale": {"domain": ["solid", "dotted"], "range": [3.3, 3.8]}, "legend": null},
     "order": {"field": "i", "type": "quantitative"}
    }},
   {"mark": {"type": "point", "opacity": 0},
    "encoding": {
     "x": {"field": "T", "type": "quantitative", "scale": {"domain": [294.4, 315.9], "nice": false, "zero": false}, "axis": {"orient": "bottom", "values": [295,296,297,298,299,300,301,302,303,304,305,306,307,308,309,310,311,312,313,314,315], "labels": false, "domain": false, "title": null, "tickColor": "#333", "tickWidth": 1, "tickSize": {"condition": {"test": "datum.value % 5 === 0", "value": -7}, "value": -3.5}}},
     "y": {"field": "h", "type": "quantitative", "scale": {"domain": [0, 4], "nice": false}, "axis": {"orient": "left", "values": [0,0.2,0.4,0.6,0.8,1,1.2,1.4,1.6,1.8,2,2.2,2.4,2.6,2.8,3,3.2,3.4,3.6,3.8,4], "labels": false, "domain": false, "title": null, "tickColor": "#333", "tickWidth": 1, "tickSize": {"condition": {"test": "datum.value % 1 === 0", "value": -7}, "value": -3.5}}}
    }},
   {"mark": {"type": "point", "opacity": 0},
    "encoding": {
     "x": {"field": "T", "type": "quantitative", "scale": {"domain": [294.4, 315.9], "nice": false, "zero": false}, "axis": {"orient": "top", "values": [295,296,297,298,299,300,301,302,303,304,305,306,307,308,309,310,311,312,313,314,315], "labels": false, "domain": false, "title": null, "tickColor": "#333", "tickWidth": 1, "tickSize": {"condition": {"test": "datum.value % 5 === 0", "value": -7}, "value": -3.5}}},
     "y": {"field": "h", "type": "quantitative", "scale": {"domain": [0, 4], "nice": false}, "axis": {"orient": "right", "values": [0,0.2,0.4,0.6,0.8,1,1.2,1.4,1.6,1.8,2,2.2,2.4,2.6,2.8,3,3.2,3.4,3.6,3.8,4], "labels": false, "domain": false, "title": null, "tickColor": "#333", "tickWidth": 1, "tickSize": {"condition": {"test": "datum.value % 1 === 0", "value": -7}, "value": -3.5}}}
    }}
  ],
  "resolve": {"axis": {"x": "independent", "y": "independent"}}
 }
}
